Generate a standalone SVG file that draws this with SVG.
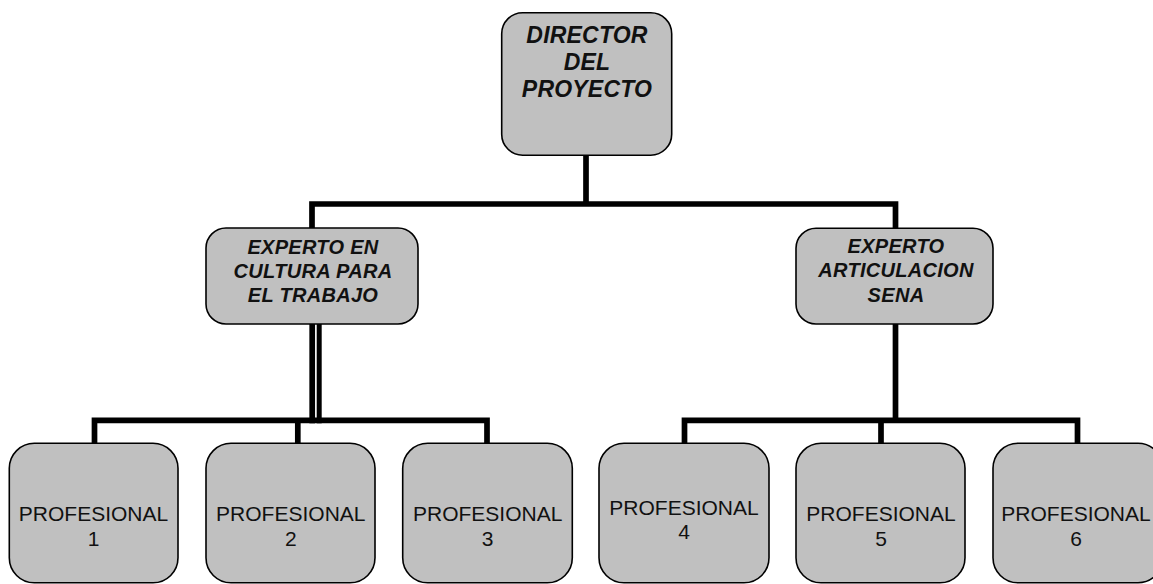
<svg xmlns="http://www.w3.org/2000/svg" width="1153" height="584" viewBox="0 0 1153 584">
<style>
.box{fill:#c0c0c0;stroke:#000;stroke-width:1.6}
.ln{fill:none;stroke:#000;stroke-width:5.7;stroke-linejoin:miter;stroke-linecap:butt}
.hd{font-family:"Liberation Sans",Arial,sans-serif;font-weight:bold;font-style:italic;text-anchor:middle;fill:#111}
.pr{font-family:"Liberation Sans",Arial,sans-serif;font-size:21px;text-anchor:middle;fill:#111}
</style>
<rect width="1153" height="584" fill="#fff"/>
<g id="connectors">
<path class="ln" d="M586,155 V204"/>
<path class="ln" d="M312,228 V204 H895.5 V228"/>
<path class="ln" d="M312.2,324 V423.3"/>
<path class="ln" d="M319.2,324 V423.3" style="stroke-width:5"/>
<path class="ln" d="M94.5,443.3 V420.3 H487 V443.3"/>
<path class="ln" d="M297.8,420.3 V443.3"/>
<path class="ln" d="M895.5,324 V420.3"/>
<path class="ln" d="M684.5,443.3 V420.3 H1077.5 V443.3"/>
<path class="ln" d="M881,420.3 V443.3"/>
</g>
<g id="director">
<rect class="box" x="501.7" y="12.7" width="170" height="142.5" rx="21" ry="21"/>
<text class="hd" style="font-size:23px;letter-spacing:0.2px" x="587" y="43.3">DIRECTOR</text>
<text class="hd" style="font-size:23px;letter-spacing:0.2px" x="587" y="70">DEL</text>
<text class="hd" style="font-size:23px;letter-spacing:0.2px" x="587" y="97.3">PROYECTO</text>
</g>
<g id="experto-cultura">
<rect class="box" x="206" y="228" width="212" height="96" rx="20" ry="20"/>
<text class="hd" style="font-size:20px;letter-spacing:0.3px" x="313" y="254">EXPERTO EN</text>
<text class="hd" style="font-size:20px;letter-spacing:0.3px" x="313" y="278">CULTURA PARA</text>
<text class="hd" style="font-size:20px;letter-spacing:0.3px" x="313" y="302">EL TRABAJO</text>
</g>
<g id="experto-sena">
<rect class="box" x="796" y="228.3" width="197" height="95.7" rx="20" ry="20"/>
<text class="hd" style="font-size:20px;letter-spacing:0.3px" x="896" y="253.3">EXPERTO</text>
<text class="hd" style="font-size:20px;letter-spacing:0.3px" x="896" y="277.3">ARTICULACION</text>
<text class="hd" style="font-size:20px;letter-spacing:0.3px" x="896" y="301.7">SENA</text>
</g>
<g id="profesional-1">
<rect class="box" x="9.3" y="443.3" width="168.7" height="139.5" rx="25" ry="25"/>
<text class="pr" x="93.5" y="520.7">PROFESIONAL</text>
<text class="pr" x="93.5" y="545.7">1</text>
</g>
<g id="profesional-2">
<rect class="box" x="206" y="443.3" width="169" height="139.5" rx="25" ry="25"/>
<text class="pr" x="290.8" y="520.7">PROFESIONAL</text>
<text class="pr" x="290.8" y="545.7">2</text>
</g>
<g id="profesional-3">
<rect class="box" x="402.7" y="443.3" width="169.6" height="139.5" rx="25" ry="25"/>
<text class="pr" x="487.7" y="520.7">PROFESIONAL</text>
<text class="pr" x="487.7" y="545.7">3</text>
</g>
<g id="profesional-4">
<rect class="box" x="599" y="443.3" width="170" height="139.5" rx="25" ry="25"/>
<text class="pr" x="684" y="515">PROFESIONAL</text>
<text class="pr" x="684" y="539.3">4</text>
</g>
<g id="profesional-5">
<rect class="box" x="796" y="443.3" width="169" height="139.5" rx="25" ry="25"/>
<text class="pr" x="881" y="520.7">PROFESIONAL</text>
<text class="pr" x="881" y="545.7">5</text>
</g>
<g id="profesional-6">
<rect class="box" x="993" y="443.3" width="170" height="139.5" rx="25" ry="25"/>
<text class="pr" x="1076" y="520.7">PROFESIONAL</text>
<text class="pr" x="1076" y="545.7">6</text>
</g>
</svg>
